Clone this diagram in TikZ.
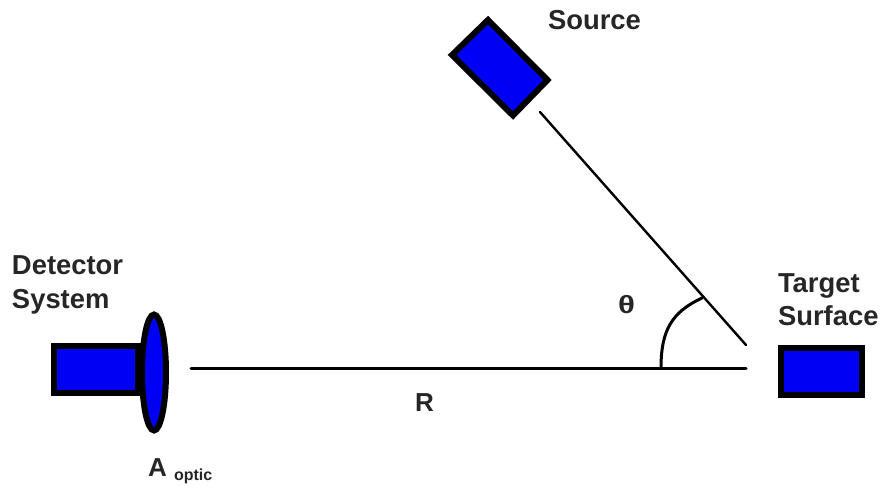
\documentclass[tikz,border=0pt]{standalone}
\usepackage{fontspec}
\setmainfont{Liberation Sans}[BoldFont={Liberation Sans Bold}]
\definecolor{fillblue}{RGB}{0,0,245}
\tikzset{
  part/.style={draw=black,fill=fillblue,line width=6pt,line join=miter},
  ray/.style={draw=black,line cap=round},
  lab/.style={anchor=base west,inner sep=0pt,outer sep=0pt,font=\fontsize{27.4}{27.4}\selectfont\bfseries,text=black!85}
}
\begin{document}
\begin{tikzpicture}[x=1pt,y=-1pt]
\useasboundingbox (0,0) rectangle (881,489);
\fill[white] (0,0) rectangle (881,489);
% detector
\draw[part] (54,346) rectangle (138,393);
\draw[part] (154,372.5) ellipse [x radius=12,y radius=58];
% source
\draw[part] (488,20) -- (547.5,80) -- (513,115.5) -- (452,55) -- cycle;
% target
\node[part,minimum width=81pt,minimum height=47pt,inner sep=0pt,anchor=center] (target) at (821.5,371.5) {};
% rays
\coordinate (beamS) at (540,112);
\coordinate (beamT) at (746,345);
\coordinate (detS) at (191,368);
\coordinate (detT) at (746,368);
\draw[ray,line width=2.4pt] (beamS) -- (beamT);
\draw[ray,line width=3pt] (detS) -- (detT);
\draw[ray,line width=3pt] (661,368) .. controls (661,330) and (672,312) .. (702,298);
% labels
\node[lab] (tsource) at (548,30) {Source};
\node[lab] (tdet) at (12,275) {Detector};
\node[lab] (tsys) at (12,308) {System};
\node[lab] (ttar) at (778,292) {Target};
\node[lab] (tsur) at (778,325) {Surface};
\node[lab,font=\fontsize{25}{25}\selectfont\bfseries,xscale=1.25] (tth) at (618,313) {θ};
\node[lab,font=\fontsize{26}{26}\selectfont\bfseries] (tr) at (415,411) {R};
\node[lab,font=\fontsize{26}{26}\selectfont\bfseries] (ta) at (148,476) {A};
\node[lab,font=\fontsize{16}{16}\selectfont\bfseries] (topt) at (174,480) {optic};
\end{tikzpicture}
\end{document}
